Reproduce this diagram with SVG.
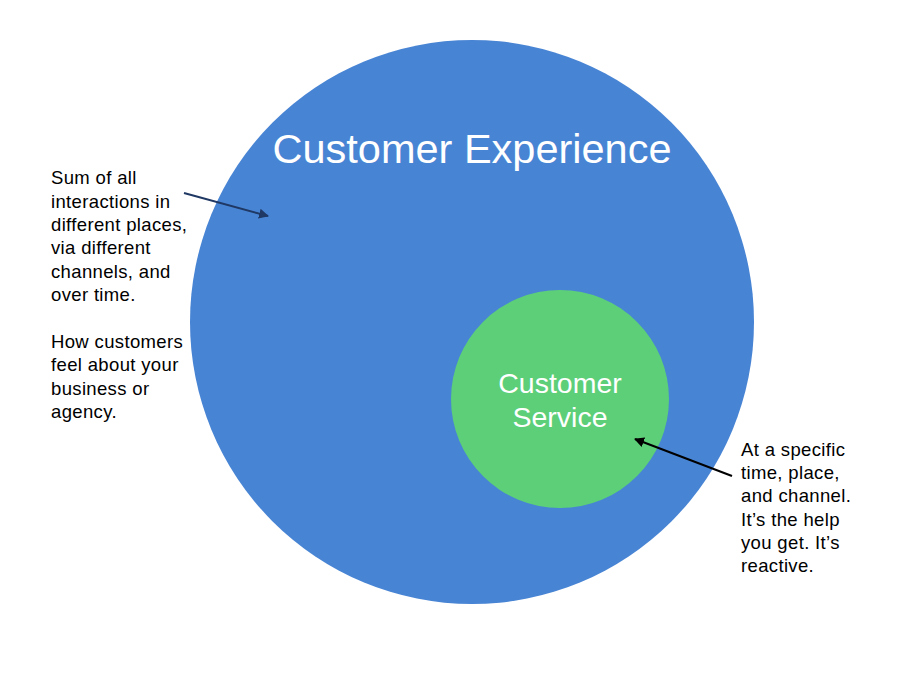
<svg xmlns="http://www.w3.org/2000/svg" width="900" height="674" viewBox="0 0 900 674">
<style>
.note{font-family:"Liberation Sans",Arial,sans-serif;font-size:18.5px;letter-spacing:0.35px;fill:#000}
.big{font-family:"Liberation Sans",Arial,sans-serif;fill:#fff;text-anchor:middle}
</style>
<defs>
<marker id="ahNavy" viewBox="0 0 10 10" refX="9" refY="5" markerWidth="5" markerHeight="5" orient="auto"><path d="M0,0 L10,5 L0,10 z" fill="#1f3864"/></marker>
<marker id="ahBlack" viewBox="0 0 10 10" refX="9" refY="5" markerWidth="5" markerHeight="5" orient="auto"><path d="M0,0 L10,5 L0,10 z" fill="#000"/></marker>
</defs>
<rect width="900" height="674" fill="#fff"/>
<g id="customer-experience">
<circle cx="472" cy="322" r="282" fill="#4884d4"/>
<text class="big" x="472" y="163" font-size="41.5">Customer Experience</text>
</g>
<g id="customer-service">
<circle cx="560" cy="399" r="109" fill="#5ccf78"/>
<text class="big" x="560" y="393" font-size="28.5">Customer</text>
<text class="big" x="560" y="427" font-size="28.5">Service</text>
</g>
<g id="note-left">
<text class="note" x="51" y="184">Sum of all</text>
<text class="note" x="51" y="208">interactions  in</text>
<text class="note" x="51" y="231">different places,</text>
<text class="note" x="51" y="254">via different</text>
<text class="note" x="51" y="278">channels, and</text>
<text class="note" x="51" y="301">over time.</text>
<text class="note" x="51" y="348">How customers</text>
<text class="note" x="51" y="371">feel about your</text>
<text class="note" x="51" y="395">business or</text>
<text class="note" x="51" y="418">agency.</text>
</g>
<g id="note-right">
<text class="note" x="741" y="456">At a specific</text>
<text class="note" x="741" y="479">time, place,</text>
<text class="note" x="741" y="502">and channel.</text>
<text class="note" x="741" y="526">It’s the help</text>
<text class="note" x="741" y="549">you get. It’s</text>
<text class="note" x="741" y="572">reactive.</text>
</g>
<g id="connectors">
<line x1="184" y1="193" x2="268" y2="216" stroke="#1f3864" stroke-width="2" marker-end="url(#ahNavy)"/>
<line x1="732" y1="476" x2="635" y2="439" stroke="#000" stroke-width="2" marker-end="url(#ahBlack)"/>
</g>
</svg>
